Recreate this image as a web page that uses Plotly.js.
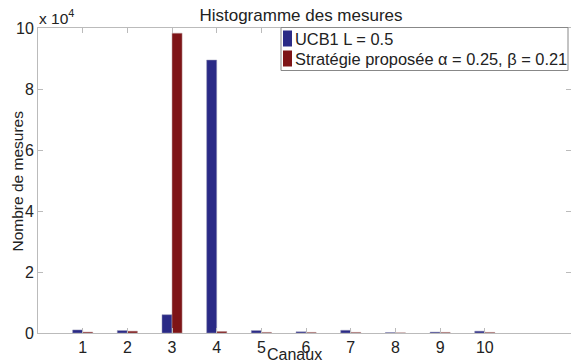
<!DOCTYPE html>
<html><head><meta charset="utf-8">
<script src="https://cdn.plot.ly/plotly-3.0.1.min.js"></script>
<style>body{margin:0;background:#fff}#c{width:571px;height:362px}</style>
</head><body><div id="c"></div>
<script>
const canaux = [1,2,3,4,5,6,7,8,9,10];
const ucb1 = [1000, 800, 6000, 89500, 800, 400, 900, 150, 300, 600];
const strategie = [300, 600, 98300, 500, 200, 200, 200, 50, 200, 200];
const yTickVals = [0,20000,40000,60000,80000,100000];
const yTickText = ['0','2','4','6','8','10'];
const nameUCB = 'UCB1 L = 0.5';
const nameStrat = 'Stratégie proposée α = 0.25, β = 0.21';
const colUCB = '#2a2a86';
const colStrat = '#7e1417';

const FAM = 'Liberation Sans, Arial, sans-serif';
const TXT = '#222';
// plot area in pixels: x 38..571, y 28..333
const L = 38, T = 28, W = 533, H = 305;
const px = v => (v - L) / W;
const py = v => (T + H - v) / H;

const data = [
  {type:'bar', x:canaux, y:ucb1, name:nameUCB, marker:{color:colUCB, line:{color:'#9a9ab8', width:0.5}}},
  {type:'bar', x:canaux, y:strategie, name:nameStrat, marker:{color:colStrat, line:{color:'#b89a9a', width:0.5}}}
];
const layout = {
  width:571, height:362,
  margin:{l:L, r:0, t:T, b:362-T-H},
  paper_bgcolor:'#fff', plot_bgcolor:'#fff',
  font:{family:FAM, size:16, color:TXT},
  bargap:0.55, bargroupgap:0,
  showlegend:false,
  title:{text:'Histogramme des mesures', x:301/571, xanchor:'center', y:1-15/362, yanchor:'middle',
    font:{family:FAM, size:17, color:TXT}},
  xaxis:{range:[0,11.93], tickvals:canaux, ticks:'inside', ticklen:5, tickcolor:'#bbb',
    showline:true, linecolor:'#bbb', mirror:'ticks', showgrid:false, zeroline:false,
    tickfont:{size:16, color:TXT}},
  yaxis:{range:[0,100000], tickvals:yTickVals, ticktext:yTickText, ticks:'inside', ticklen:5, tickcolor:'#bbb',
    showline:true, linecolor:'#bbb', mirror:'ticks', showgrid:false, zeroline:false,
    tickfont:{size:16, color:TXT}},
  shapes:[
    {type:'rect', xref:'paper', yref:'paper', x0:px(281), x1:px(568), y0:py(70.5), y1:py(27.5),
      line:{color:'#888', width:1}, fillcolor:'#fff', layer:'above'},
    {type:'rect', xref:'paper', yref:'paper', x0:px(283), x1:px(292), y0:py(46.5), y1:py(30.5),
      line:{width:0}, fillcolor:colUCB, layer:'above'},
    {type:'rect', xref:'paper', yref:'paper', x0:px(283), x1:px(292), y0:py(66.5), y1:py(50.5),
      line:{width:0}, fillcolor:colStrat, layer:'above'}
  ],
  annotations:[
    {xref:'paper', yref:'paper', x:px(293), y:py(38.8), xanchor:'left', yanchor:'middle', showarrow:false,
      text:nameUCB, font:{size:16.4, color:TXT}},
    {xref:'paper', yref:'paper', x:px(293), y:py(58.8), xanchor:'left', yanchor:'middle', showarrow:false,
      text:nameStrat, font:{size:16.4, color:TXT}},
    {xref:'paper', yref:'paper', x:px(37), y:py(29), xanchor:'left', yanchor:'bottom', showarrow:false,
      text:'x 10<sup>4</sup>', font:{size:15.5, color:TXT}},
    {xref:'paper', yref:'paper', x:px(16.5), y:py(181), xanchor:'center', yanchor:'middle', showarrow:false,
      textangle:-90, text:'Nombre de mesures', font:{size:15.5, color:TXT}},
    {xref:'paper', yref:'paper', x:px(294), y:py(354), xanchor:'center', yanchor:'middle', showarrow:false,
      text:'Canaux', font:{size:16, color:TXT}}
  ]
};
Plotly.newPlot('c', data, layout, {displayModeBar:false, staticPlot:true});
</script></body></html>
